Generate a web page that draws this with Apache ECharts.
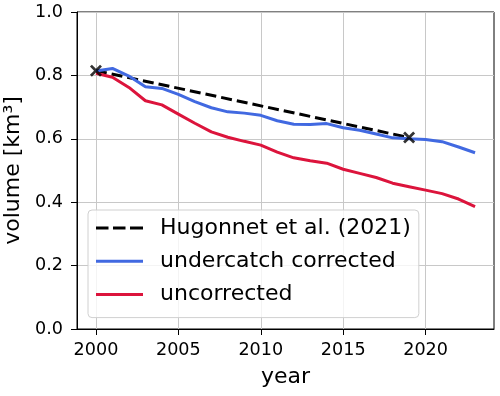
<!DOCTYPE html>
<html>
<head>
<meta charset="utf-8">
<script src="https://cdn.jsdelivr.net/npm/echarts@6/dist/echarts.min.js"></script>
<style>
html,body{margin:0;padding:0;background:#fff;}
#chart{width:500px;height:396px;}
</style>
</head>
<body>
<div id="chart"></div>
<script>
const years = [2000,2001,2002,2003,2004,2005,2006,2007,2008,2009,2010,2011,2012,2013,2014,2015,2016,2017,2018,2019,2020,2021,2022,2023];
const corrected = [0.814,0.822,0.798,0.764,0.759,0.740,0.717,0.698,0.685,0.681,0.674,0.657,0.646,0.645,0.648,0.635,0.627,0.615,0.603,0.600,0.598,0.591,0.574,0.556];
const uncorrected = [0.807,0.794,0.762,0.720,0.707,0.678,0.649,0.622,0.605,0.592,0.580,0.558,0.540,0.531,0.523,0.504,0.491,0.478,0.460,0.449,0.438,0.427,0.410,0.386];
const hugYears = [2000,2019];
const hugValues = [0.815,0.604];
const xTicks = [2000,2005,2010,2015,2020];
const names = ['Hugonnet et al. (2021)','undercatch corrected','uncorrected'];

const font = 'DejaVu Sans';
const pair = (xs, ys) => xs.map((x,i)=>[x,ys[i]]);
const xMarker = 'path://M0,1.6 L1.6,0 L5,3.4 L8.4,0 L10,1.6 L6.6,5 L10,8.4 L8.4,10 L5,6.6 L1.6,10 L0,8.4 L3.4,5 Z';
const dashIcon = 'path://M0,0 H12.5 V3 H0 Z M17,0 H29.5 V3 H17 Z M34,0 H47 V3 H34 Z';
const solidIcon = 'path://M0,0 H47 V3 H0 Z';

const chart = echarts.init(document.getElementById('chart'), null, {renderer:'canvas'});
chart.setOption({
  animation:false,
  backgroundColor:'#fff',
  grid:{left:77,right:6,top:12,bottom:67,outerBoundsMode:'none',containLabel:false,show:true,borderColor:'#000',borderWidth:1,backgroundColor:'transparent'},
  xAxis:{
    type:'value',min:1998.85,max:2024.15,
    name:'year',nameLocation:'middle',nameGap:37,
    nameTextStyle:{fontFamily:font,fontSize:22,color:'#000'},
    axisLine:{show:true,lineStyle:{color:'#000',width:1}},
    axisTick:{show:true,length:6,inside:false,customValues:xTicks,lineStyle:{color:'#000'}},
    axisLabel:{customValues:xTicks,margin:12,fontFamily:font,fontSize:17.6,color:'#000',formatter:v=>String(v)},
    splitLine:{show:true,lineStyle:{color:'#c8c8c8',width:1}}
  },
  yAxis:{
    type:'value',min:0,max:1,interval:0.2,
    name:'volume [km³]',nameLocation:'middle',nameGap:51,nameRotate:90,
    nameTextStyle:{fontFamily:font,fontSize:22,color:'#000'},
    axisLine:{show:true,lineStyle:{color:'#000',width:1}},
    axisTick:{show:true,length:6,inside:false,lineStyle:{color:'#000'}},
    axisLabel:{margin:14,fontFamily:font,fontSize:17.6,color:'#000',formatter:v=>v.toFixed(1)},
    splitLine:{show:true,lineStyle:{color:'#c8c8c8',width:1}}
  },
  legend:{
    data:[
      {name:names[0],icon:dashIcon},
      {name:names[1],icon:solidIcon},
      {name:names[2],icon:solidIcon}
    ],
    orient:'vertical',left:88,top:210,
    padding:[7,8,12,8],itemGap:11.3,itemWidth:47,itemHeight:3,
    backgroundColor:'rgba(255,255,255,0.8)',borderColor:'#d0d0d0',borderWidth:1,borderRadius:4,
    itemStyle:{borderWidth:0},
    lineStyle:{width:0,opacity:0},
    textStyle:{fontFamily:font,fontSize:22,color:'#000',lineHeight:22,padding:[0,0,0,12]}
  },
  series:[
    {name:names[0],type:'line',data:pair(hugYears,hugValues),showSymbol:false,symbol:'none',
     lineStyle:{color:'#000',width:3,type:[11,5]},itemStyle:{color:'#000'},z:2},
    {name:names[1],type:'line',data:pair(years,corrected),showSymbol:false,symbol:'none',
     lineStyle:{color:'#4169E1',width:3},itemStyle:{color:'#4169E1'},z:3},
    {name:names[2],type:'line',data:pair(years,uncorrected),showSymbol:false,symbol:'none',
     lineStyle:{color:'#DC143C',width:3},itemStyle:{color:'#DC143C'},z:4},
    {name:'markers',type:'scatter',data:pair(hugYears,hugValues),symbol:xMarker,symbolSize:12,
     itemStyle:{color:'#000'},z:5,silent:true}
  ]
});
</script>
</body>
</html>
